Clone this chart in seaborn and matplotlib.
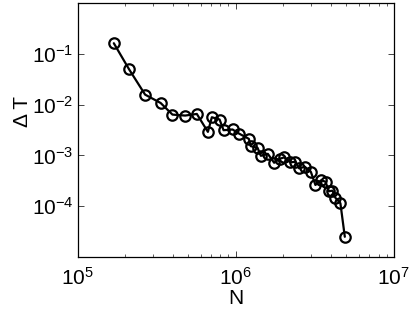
import seaborn as sns
import matplotlib.pyplot as plt
import matplotlib.ticker as mticker
import numpy as np
import pandas as pd

sns.set_style('ticks')
plt.rcParams['font.family'] = ['Liberation Sans', 'DejaVu Sans']
plt.rcParams['mathtext.fontset'] = 'custom'
plt.rcParams['mathtext.rm'] = 'Liberation Sans'
plt.rcParams['mathtext.it'] = 'Liberation Sans:italic'
plt.rcParams['text.color'] = 'black'
plt.rcParams['axes.labelcolor'] = 'black'
plt.rcParams['xtick.labelcolor'] = 'black'
plt.rcParams['ytick.labelcolor'] = 'black'

# log10 of N and of Delta T
log_n = [5.229, 5.326, 5.427, 5.525, 5.600, 5.680, 5.754, 5.824, 5.849, 5.898,
         5.923, 5.980, 6.020, 6.083, 6.095, 6.138, 6.159, 6.203, 6.243, 6.279,
         6.306, 6.346, 6.378, 6.401, 6.437, 6.475, 6.504, 6.540, 6.568, 6.589,
         6.612, 6.631, 6.662, 6.690]
log_dt = [-0.792, -1.308, -1.804, -1.968, -2.197, -2.216, -2.184, -2.537, -2.249, -2.294,
          -2.504, -2.490, -2.569, -2.674, -2.818, -2.851, -3.008, -2.969, -3.145, -3.067,
          -3.039, -3.137, -3.125, -3.255, -3.224, -3.322, -3.582, -3.490, -3.518, -3.706,
          -3.694, -3.837, -3.941, -4.602]

df = pd.DataFrame({'N': 10 ** np.array(log_n), 'dT': 10 ** np.array(log_dt)})

fig = plt.figure(figsize=(4.15, 3.14), dpi=100)
ax = fig.add_axes([0.187, 0.1815, 0.762, 0.809])

sns.lineplot(data=df, x='N', y='dT', ax=ax, color='black', linewidth=1.6,
             marker='o', markersize=7.5, markerfacecolor='none',
             markeredgecolor='black', markeredgewidth=1.6, sort=False)

ax.set_xscale('log')
ax.set_yscale('log')
ax.set_xlim(1e5, 1e7)
ax.set_ylim(1e-5, 1e0)
ax.set_yticks([1e-4, 1e-3, 1e-2, 1e-1])
ax.yaxis.set_minor_locator(mticker.NullLocator())
ax.xaxis.set_minor_locator(mticker.LogLocator(base=10, subs=np.arange(2, 10)))

for side in ['top', 'right', 'bottom', 'left']:
    ax.spines[side].set_visible(True)
    ax.spines[side].set_linewidth(0.9)
    ax.spines[side].set_color('black')

ax.tick_params(which='both', direction='in', top=True, right=True, color='#444444')
ax.tick_params(which='major', length=4, width=0.7, labelsize=15, pad=3)
ax.tick_params(axis='x', which='major', pad=7)
ax.tick_params(which='minor', length=2.5, width=0.6)

ax.set_xlabel('N', fontsize=15, labelpad=0)
ax.set_ylabel('Δ T', fontsize=15)
ax.yaxis.set_label_coords(-0.145, 0.571)

fig.savefig('out.png', dpi=100)
